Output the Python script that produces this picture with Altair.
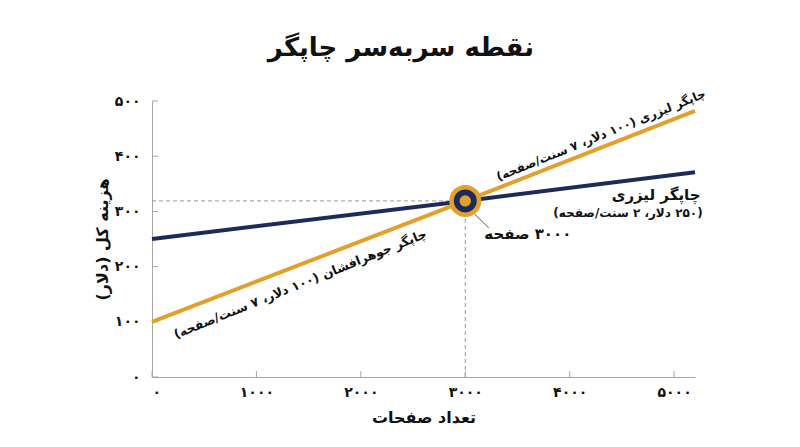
import altair as alt
import pandas as pd

# ---- data ----
pages = [0, 3000, 5200]
inkjet_cost = [100, 319, 482]   # orange line
laser_cost = [250, 319, 371]    # navy line

x_ticks = [0, 1000, 2000, 3000, 4000, 5000]
x_tick_labels = ["۰", "۱۰۰۰", "۲۰۰۰", "۳۰۰۰", "۴۰۰۰", "۵۰۰۰"]
y_ticks = [0, 100, 200, 300, 400, 500]
y_tick_labels = ["۰", "۱۰۰", "۲۰۰", "۳۰۰", "۴۰۰", "۵۰۰"]

break_even_pages = [3000]
break_even_cost = [319]

title_text = "نقطه سربه\u200cسر چاپگر"
x_title = "تعداد صفحات"
y_title = "\u202bهزینه کل (دلار)\u202c"

label_texts = [
    "چاپگر لیزری (۱۰۰ دلار، ۷ سنت/صفحه)",
    "چاپگر جوهرافشان (۱۰۰ دلار، ۷ سنت/صفحه)",
    "چاپگر لیزری",
    "(۲۵۰ دلار، ۲ سنت/صفحه)",
    "۳۰۰۰ صفحه",
]
label_x = [4300, 1420, 4827, 4558, 3599]
label_y = [438, 168, 330, 297, 259]
label_angle = [338, 338, 0, 0, 0]
label_size = [12, 12.5, 15, 12, 15]

leader_x = [3090]
leader_y = [295]
leader_x2 = [3225]
leader_y2 = [270]

ORANGE = "#E4A02C"
NAVY = "#1D2B5B"
FONT = "DejaVu Sans"
W, H = 543, 276

def label_expr(values, labels):
    expr = "''"
    for v, l in zip(reversed(values), reversed(labels)):
        expr = f"datum.value == {v} ? '{l}' : ({expr})"
    return expr

lines_df = pd.DataFrame({
    "pages": pages * 2,
    "cost": laser_cost + inkjet_cost,
    "series": ["laser"] * len(pages) + ["inkjet"] * len(pages),
})

xs = alt.Scale(domain=[0, 5200], nice=False)
ys = alt.Scale(domain=[0, 500], nice=False)

x_axis = alt.Axis(values=x_ticks, labelExpr=label_expr(x_ticks, x_tick_labels),
                  title=x_title, labelPadding=8, titlePadding=10)
y_axis = alt.Axis(values=y_ticks, labelExpr=label_expr(y_ticks, y_tick_labels),
                  title=y_title, labelPadding=12, titlePadding=4)

lines = alt.Chart(lines_df).mark_line(strokeWidth=4).encode(
    x=alt.X("pages:Q", scale=xs, axis=x_axis),
    y=alt.Y("cost:Q", scale=ys, axis=y_axis),
    color=alt.Color("series:N", scale=alt.Scale(domain=["laser", "inkjet"], range=[NAVY, ORANGE]), legend=None),
    detail="series:N",
)

guides_df = pd.DataFrame({
    "x": [0, break_even_pages[0]],
    "x2": [break_even_pages[0], break_even_pages[0]],
    "y": [break_even_cost[0], 0],
    "y2": [break_even_cost[0], break_even_cost[0]],
})
guides = alt.Chart(guides_df).mark_rule(color="#9a9a9a", strokeDash=[4, 3], strokeWidth=1).encode(
    x=alt.X("x:Q", scale=xs), x2="x2:Q", y=alt.Y("y:Q", scale=ys), y2="y2:Q"
)

xt = alt.Chart(pd.DataFrame({"v": x_ticks})).mark_rule(color="#a6a6a6", strokeWidth=1).encode(
    x=alt.X("v:Q", scale=xs), y=alt.value(H), y2=alt.value(H - 6)
)
yt = alt.Chart(pd.DataFrame({"v": y_ticks})).mark_rule(color="#a6a6a6", strokeWidth=1).encode(
    y=alt.Y("v:Q", scale=ys), x=alt.value(0), x2=alt.value(6)
)

leader = alt.Chart(pd.DataFrame({"x": leader_x, "y": leader_y, "x2": leader_x2, "y2": leader_y2})).mark_rule(
    color="#555555", strokeWidth=1).encode(
    x=alt.X("x:Q", scale=xs), x2="x2:Q", y=alt.Y("y:Q", scale=ys), y2="y2:Q"
)

pt_df = pd.DataFrame({"x": break_even_pages, "y": break_even_cost})
pt_base = alt.Chart(pt_df).encode(x=alt.X("x:Q", scale=xs), y=alt.Y("y:Q", scale=ys))
p1 = pt_base.mark_circle(size=1024, color=ORANGE, opacity=1)
p2 = pt_base.mark_circle(size=530, color=NAVY, opacity=1)
p3 = pt_base.mark_circle(size=130, color=ORANGE, opacity=1)

labels_df = pd.DataFrame({"t": ["\u202b" + t + "\u202c" for t in label_texts], "x": label_x, "y": label_y,
                          "a": label_angle, "s": label_size})
labels = alt.Chart(labels_df).mark_text(align="center", baseline="middle",
                                        font=FONT, fontWeight="bold", color="#111111").encode(
    x=alt.X("x:Q", scale=xs), y=alt.Y("y:Q", scale=ys), text="t:N",
    angle=alt.Angle("a:Q", scale=None), size=alt.Size("s:Q", scale=None),
)

chart = alt.layer(guides, xt, yt, lines, leader, p1, p2, p3, labels).properties(
    width=W, height=H,
    title=alt.TitleParams(title_text, fontSize=26, fontWeight="bold", font=FONT, color="#111111",
                          anchor="middle", frame="bounds", offset=27),
    padding={"left": 86, "top": 26, "right": 5, "bottom": 5},
).configure_view(stroke=None).configure_axis(
    grid=False, ticks=False, domainColor="#a6a6a6", domainWidth=1,
    labelFont=FONT, labelFontWeight="bold", labelFontSize=14, labelColor="#111111",
    titleFont=FONT, titleFontWeight="bold", titleFontSize=16, titleColor="#111111",
)

chart.save("out.html", embed_options={"renderer": "svg", "actions": False})
